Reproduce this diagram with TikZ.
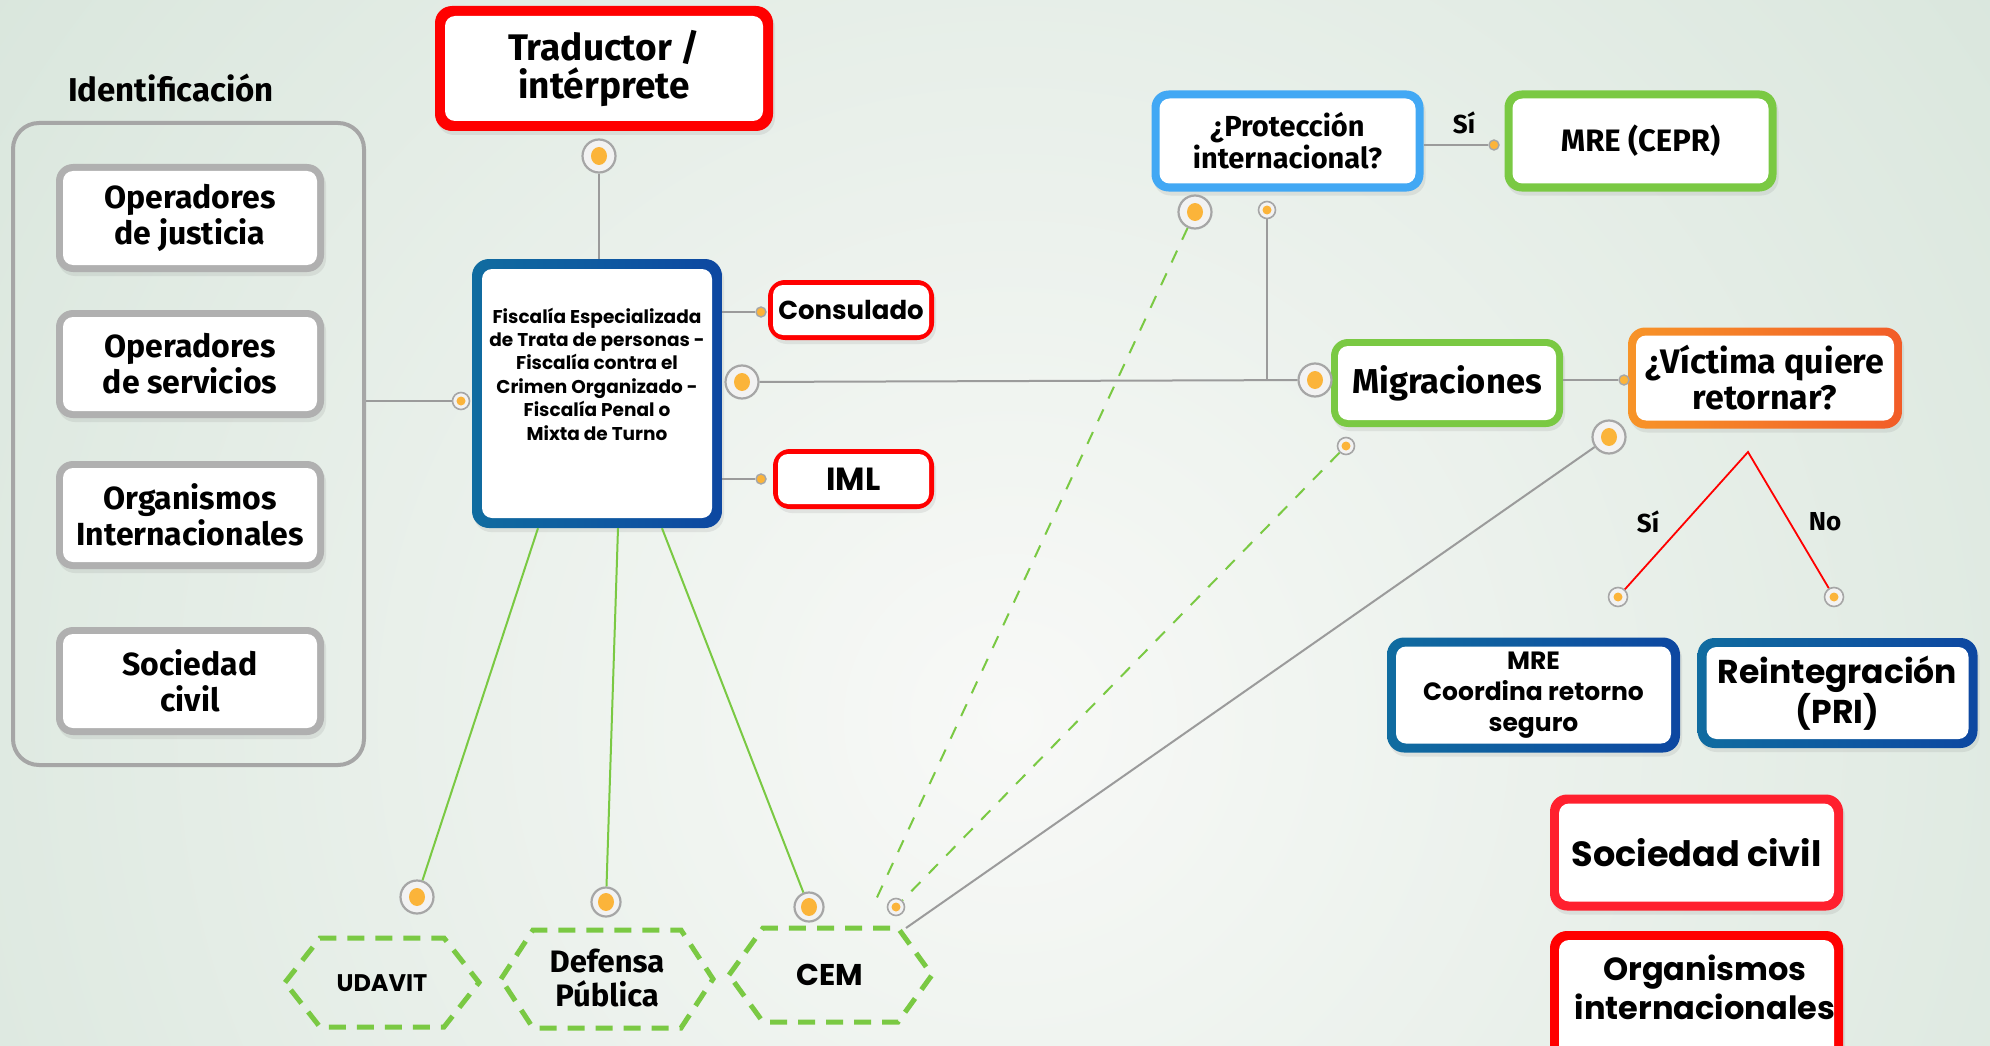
\documentclass[tikz,border=0pt]{standalone}
\usepackage{fontspec}
\setmainfont{Poppins}
\newfontfamily\wf{Poppins}
\newfontfamily\cf{Fira Sans}
\usetikzlibrary{shadows,calc}
\newcommand\fsz[2]{\fontsize{#1pt}{#2pt}\selectfont}
\definecolor{bgbase}{RGB}{199,219,205}
\definecolor{bgcenter}{RGB}{248,249,247}
\definecolor{boxred}{RGB}{255,0,0}
\definecolor{boxredb}{RGB}{255,32,46}
\definecolor{boxgray}{RGB}{176,176,176}
\definecolor{blueA}{RGB}{16,108,160}
\definecolor{blueB}{RGB}{13,71,161}
\definecolor{lblue}{RGB}{66,168,244}
\definecolor{gboxc}{RGB}{122,201,67}
\definecolor{orA}{RGB}{247,148,40}
\definecolor{orB}{RGB}{242,92,40}
\definecolor{dotor}{RGB}{251,180,58}
\definecolor{ringgray}{RGB}{166,166,166}
\definecolor{linegray}{RGB}{155,155,155}
\definecolor{grnline}{RGB}{122,201,67}
\newcommand\tbox[9]{%
  \node[obox, #7, minimum width=#4pt, minimum height=#5pt] (#1) at (#2,#3) {};
  \node[ibox, minimum width={#4pt-2*#6pt}, minimum height={#5pt-2*#6pt}, font=#8] (#1-in) at (#1) {#9};
}
\newcommand\hexa[6]{% name, cx, cy, halfw, halfh, slant
  \draw[hexdash] (#2-#4,#3) -- (#2-#4+#6,#3-#5) -- (#2+#4-#6,#3-#5) -- (#2+#4,#3)
     -- (#2+#4-#6,#3+#5) -- (#2-#4+#6,#3+#5) -- cycle;
}
\begin{document}
\begin{tikzpicture}[x=1pt,y=-1pt,
  obox/.style={rectangle, rounded corners=17pt, inner sep=0pt,
     drop shadow={opacity=0.15, shadow xshift=2pt, shadow yshift=-4pt}},
  ibox/.style={rectangle, rounded corners=10pt, fill=white, inner sep=0pt, align=center, text=black},
  grpbox/.style={draw=ringgray, line width=4pt, rounded corners=26pt, inner sep=0pt},
  bigdot/.style={circle, minimum size=33pt, inner sep=0pt, draw=ringgray, line width=2.2pt, fill=white!90!gray,
     path picture={\fill[dotor] (path picture bounding box.center) ellipse (8pt and 9pt);}},
  meddot/.style={circle, minimum size=17pt, inner sep=0pt, draw=ringgray, line width=1.6pt, fill=white!90!gray,
     path picture={\fill[dotor] (path picture bounding box.center) circle (4.5pt);}},
  smalldot/.style={circle, minimum size=10pt, inner sep=0pt, draw=ringgray, line width=1.4pt, fill=dotor},
  gline/.style={draw=linegray, line width=2pt},
  greensolid/.style={draw=grnline, line width=2pt},
  greendash/.style={draw=grnline, line width=2pt, dash pattern=on 13pt off 12pt},
  redline/.style={draw=red, line width=1.8pt},
  hexdash/.style={draw=grnline, line width=5pt, dash pattern=on 17pt off 11pt},
  lbl/.style={font=\cf\bfseries\fsz{26}{30}, text=black, inner sep=0pt},
]
\useasboundingbox (0,0) rectangle (1990,1046);
% background
\fill[bgbase] (0,0) rectangle (1990,1046);
\begin{scope}
\clip (0,0) rectangle (1990,1046);
\shade[inner color=bgcenter, outer color=bgbase] (1010,720) circle (2000pt);
\end{scope}

% identification group
\node[font=\cf\bfseries\fsz{33}{36}, inner sep=0pt] (ident) at (171,88) {Identificación};
\node[grpbox, minimum width=351pt, minimum height=642pt] (grp) at (188.5,444) {};
\tbox{g1}{190}{218}{268}{108}{7}{fill=boxgray}{\cf\bfseries\fsz{32}{36}}{Operadores\\de justicia}
\tbox{g2}{190}{364}{268}{108}{7}{fill=boxgray}{\cf\bfseries\fsz{32}{36}}{Operadores\\de servicios}
\tbox{g3}{190}{515}{268}{108}{7}{fill=boxgray}{\cf\bfseries\fsz{32}{36}}{Organismos\\Internacionales}
\tbox{g4}{190}{681}{268}{108}{7}{fill=boxgray}{\cf\bfseries\fsz{32}{36}}{Sociedad\\civil}

% central
\tbox{trad}{604}{68.5}{338}{125}{10}{fill=boxred}{\cf\bfseries\fsz{37}{38}}{Traductor /\\intérprete}
\tbox{fis}{597}{393.5}{250}{269}{10}{left color=blueA, right color=blueB}{}{}
\node[font=\wf\bfseries\fsz{18.5}{23.4}, align=center, inner sep=0pt] (fistxt) at (597,374)
  {Fiscalía Especializada\\de Trata de personas -\\Fiscalía contra el\\Crimen Organizado -\\Fiscalía Penal o\\Mixta de Turno};
\tbox{cons}{851}{310}{166}{60}{5}{fill=boxred}{\wf\bfseries\fsz{26}{30}}{Consulado}
\tbox{iml}{853.5}{479}{161}{60}{5}{fill=boxred}{\wf\bfseries\fsz{32}{36}}{IML}

% right side
\tbox{prot}{1287.5}{141}{272}{101}{8}{fill=lblue}{\cf\bfseries\fsz{29}{32}}{¿Protección\\internacional?}
\tbox{cepr}{1640.5}{141}{272}{101}{8}{fill=gboxc}{\cf\bfseries\fsz{31}{32}}{MRE (CEPR)}
\tbox{mig}{1447}{383}{232}{88}{7}{fill=gboxc}{\cf\bfseries\fsz{34.5}{38}}{Migraciones}
\tbox{vic}{1765}{378}{274}{101}{8}{left color=orA, right color=orB}{\cf\bfseries\fsz{34}{36}}{¿Víctima quiere\\retornar?}
\tbox{mrec}{1533.5}{695}{293}{115}{9}{left color=blueA, right color=blueB}{\wf\bfseries\fsz{25}{31}}{MRE\\Coordina retorno\\seguro}
\tbox{rein}{1837.5}{693}{280}{110}{9}{left color=blueA, right color=blueB}{\wf\bfseries\fsz{33}{39}}{Reintegración\\(PRI)}
\tbox{socr}{1696.5}{852.5}{293}{116}{9}{fill=boxredb}{\wf\bfseries\fsz{35}{40}}{Sociedad civil}
\tbox{orgr}{1696.5}{1000}{293}{138}{9}{fill=boxred}{}{}
\node[font=\wf\bfseries\fsz{32}{39}, align=center, inner sep=0pt] (orgtxt) at (1705,987)
  {Organismos\\internacionales};

% hexagons
\hexa{udavit}{382}{982.5}{97}{44.5}{35}
\hexa{defensa}{607}{979}{106}{49}{32}
\hexa{cem}{830.5}{975}{101.5}{47}{34}
\node[font=\wf\bfseries\fsz{24}{28}, inner sep=0pt] (udtxt) at (382,983) {UDAVIT};
\node[font=\cf\bfseries\fsz{31}{34}, align=center, inner sep=0pt] (deftxt) at (607,978) {Defensa\\Pública};
\node[font=\wf\bfseries\fsz{30}{34}, inner sep=0pt] (cemtxt) at (830,975) {CEM};
\coordinate (cemtr) at (906,928);
\coordinate (dend) at (873,906);
\coordinate (apex) at (1748,452);

% dots
\node[bigdot] (tdot) at (599,156) {};
\node[meddot] (gdot) at (461,401) {};
\node[smalldot] (cdot) at (761,312) {};
\node[smalldot] (imdot) at (761,479) {};
\node[bigdot] (fdot) at (742,382) {};
\node[bigdot] (mdot) at (1315,380) {};
\node[meddot] (pdot) at (1267,210) {};
\node[bigdot] (pbdot) at (1195,212) {};
\node[smalldot] (sdot) at (1494,145) {};
\node[smalldot] (vsdot) at (1624,380) {};
\node[bigdot] (vdot) at (1609,437) {};
\node[meddot] (msdot) at (1346,446) {};
\node[meddot, minimum size=19pt] (sidot) at (1618,597) {};
\node[meddot, minimum size=19pt] (nodot) at (1834,597) {};
\node[bigdot] (udot) at (417,897) {};
\node[bigdot, minimum size=29pt] (ddot) at (606,902) {};
\node[bigdot, minimum size=29pt] (cdot2) at (809,907) {};
\node[meddot] (csdot) at (896,907) {};

% connectors
\draw[gline] (grp.east |- gdot) -- (gdot);
\draw[gline] (tdot) -- (tdot |- fis.north);
\draw[gline] (fis.east |- cdot) -- (cdot);
\draw[gline] (fis.east |- imdot) -- (imdot);
\draw[gline] (fdot) -- (mdot);
\draw[gline] (pdot) -- (pdot |- mdot);
\draw[gline] (prot.east |- sdot) -- (sdot);
\draw[gline] (mig.east |- vsdot) -- (vsdot);
\draw[gline] (vdot) -- (cemtr);
\draw[greendash] (pbdot) -- (dend);
\draw[greendash] (msdot) -- (csdot);
\draw[redline] (sidot) -- (apex) -- (nodot);
\draw[greensolid] ([xshift=-59pt]fis.south) -- (udot);
\draw[greensolid] ([xshift=21pt]fis.south) -- (ddot);
\draw[greensolid] ([xshift=65pt]fis.south) -- (cdot2);

% labels
\node[lbl] (si1) at (1464,123) {Sí};
\node[lbl] (si2) at (1648,522) {Sí};
\node[lbl] (no2) at (1825,522) {No};
\end{tikzpicture}
\end{document}
